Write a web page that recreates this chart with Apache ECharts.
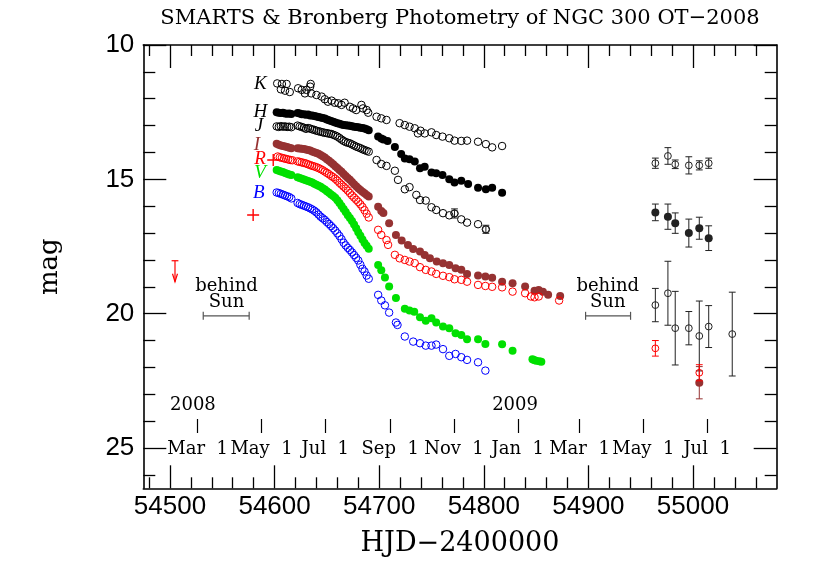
<!DOCTYPE html>
<html><head><meta charset="utf-8">
<script src="https://cdn.jsdelivr.net/npm/echarts@6/dist/echarts.min.js"></script>
<style>html,body{margin:0;padding:0;background:#fff}#c{width:830px;height:578px}</style>
</head><body><div id="c"></div><script>
// ---------------- data (HJD-2400000, magnitude) ----------------
const K = [[54602.5,11.43],[54607,11.45],[54611.5,11.45],[54606,11.65],[54610,11.70],[54614.5,11.75],
 [54622.5,11.61],[54626,11.67],[54630.5,11.67],[54634.5,11.45],[54634,11.55],[54629,11.80],[54635,11.80],
 [54640,11.86],[54645,11.92],[54648,12.02],[54651,12.11],[54654.5,12.07],[54657.5,12.15],[54661,12.17],
 [54664,12.23],[54667,12.15],[54672,12.30],[54675,12.36],[54678,12.42],[54683,12.23],[54684.5,12.36],
 [54688,12.42],[54689.5,12.52],[54697.5,12.67],[54702,12.73],[54707,12.79],[54719.5,12.91],[54724.5,12.98],
 [54729,13.04],[54734,13.10],[54737,13.29],[54739.5,13.19],[54743.5,13.29],[54750,13.25],[54754.5,13.35],
 [54760.5,13.41],[54767,13.47],[54772,13.56],[54778.5,13.57],[54784,13.56],[54794.5,13.60],[54802,13.69],
 [54808,13.81],[54817.5,13.76]];
const H = [[54602,12.50],[54604,12.52],[54606,12.53],[54608,12.52],[54610,12.55],[54612,12.56],[54614,12.55],[54616,12.57],
 [54622,12.53],[54624,12.55],[54626,12.58],[54628,12.58],[54630,12.60],[54632,12.59],[54634,12.62],[54636,12.62],
 [54638,12.64],[54640,12.66],[54642,12.68],[54644,12.70],[54646,12.72],[54648,12.74],[54650,12.77],[54652,12.80],
 [54654,12.83],[54656,12.86],[54658,12.88],[54660,12.91],[54662,12.93],[54664,12.96],[54666,12.98],[54668,12.99],
 [54670,13.00],[54672,13.01],[54674,13.02],[54676,13.04],[54678,13.05],[54680,13.06],[54682,13.08],[54684,13.09],
 [54686,13.11],[54688,13.14],[54690,13.17],[54699,13.41],[54702,13.48],[54704,13.52],[54708,13.57],[54715,13.80],
 [54721,14.06],[54724.5,14.22],[54729,14.25],[54734,14.34],[54739,14.59],[54743.5,14.53],[54750,14.75],[54754.5,14.77],
 [54760.5,14.84],[54767,15.00],[54772,15.12],[54778.5,15.05],[54785,15.17],[54794.5,15.31],[54802,15.37],[54808,15.31],
 [54817.5,15.50]];
const J = [[54602,13.03],[54604,13.05],[54606,13.02],[54608,13.04],[54610,13.03],[54612,13.05],[54614,13.04],[54616,13.06],
 [54622,13.00],[54624,13.03],[54626,13.05],[54628,13.08],[54630,13.12],[54632,13.09],[54634,13.11],[54636,13.14],
 [54638,13.16],[54640,13.19],[54642,13.21],[54644,13.23],[54646,13.25],[54648,13.27],[54650,13.28],[54652,13.30],
 [54654,13.31],[54656,13.34],[54658,13.37],[54660,13.41],[54662,13.46],[54664,13.52],[54666,13.57],[54668,13.61],
 [54670,13.64],[54672,13.66],[54674,13.70],[54676,13.74],[54678,13.78],[54680,13.81],[54682,13.84],[54684,13.88],
 [54686,13.91],[54688,13.94],[54690,13.97],[54697.5,14.28],[54702,14.43],[54707,14.50],[54715,14.68],[54718,15.02],
 [54724.5,15.37],[54729,15.29],[54735.5,15.58],[54739,15.77],[54744.5,15.79],[54750,16.04],[54754.5,16.14],[54761,16.26],
 [54767,16.34],[54772,16.27],[54778.5,16.49],[54784,16.61],[54794.5,16.67],[54802,16.86]];
const I = [[54602,13.68],[54604,13.71],[54606,13.74],[54608,13.76],[54610,13.78],[54612,13.80],[54614,13.82],[54616,13.84],
 [54622,13.84],[54624,13.85],[54626,13.86],[54628,13.87],[54630,13.89],[54632,13.91],[54634,13.93],[54636,13.96],
 [54638,13.99],[54640,14.02],[54642,14.05],[54644,14.09],[54646,14.14],[54648,14.19],[54650,14.25],[54652,14.31],
 [54654,14.37],[54656,14.44],[54658,14.51],[54660,14.58],[54662,14.65],[54664,14.72],[54666,14.80],[54668,14.88],
 [54670,14.95],[54672,15.02],[54674,15.10],[54676,15.18],[54678,15.26],[54680,15.33],[54682,15.40],[54684,15.46],
 [54686,15.52],[54688,15.58],[54690,15.64],[54699,16.02],[54702,16.18],[54704,16.25],[54709.5,16.63],[54716,17.07],
 [54721.5,17.28],[54727.5,17.44],[54732.5,17.59],[54739,17.69],[54743.5,17.82],[54748.5,17.94],[54755,18.06],[54761,18.12],
 [54767,18.19],[54773,18.31],[54778.5,18.37],[54784,18.52],[54794.5,18.58],[54801.5,18.62],[54808,18.66],[54817.5,18.81],
 [54827.5,18.87],[54839.5,18.99],[54848.5,19.15],[54852.5,19.12],[54856.5,19.18],[54861.5,19.30],[54873,19.34]];
const R = [[54603,14.15],[54605,14.18],[54607,14.20],[54609,14.22],[54611,14.24],[54613,14.26],[54615,14.28],[54617,14.29],
 [54622,14.33],[54624,14.35],[54626,14.37],[54628,14.39],[54630,14.41],[54632,14.44],[54634,14.47],[54636,14.50],
 [54638,14.52],[54640,14.55],[54642,14.58],[54644,14.62],[54646,14.66],[54648,14.71],[54650,14.76],[54652,14.81],
 [54654,14.87],[54656,14.92],[54658,14.98],[54660,15.05],[54662,15.13],[54664,15.20],[54666,15.27],[54668,15.34],
 [54670,15.42],[54672,15.51],[54674,15.60],[54676,15.68],[54678,15.76],[54680,15.84],[54682,15.93],[54684,16.03],
 [54686,16.15],[54688,16.28],[54690,16.42],[54699,16.88],[54702,17.07],[54707,17.26],[54708.5,17.44],[54715,17.81],
 [54719.5,17.94],[54724.5,18.00],[54729,18.06],[54734,18.12],[54739,18.27],[54744.5,18.37],[54750,18.43],[54754.5,18.52],
 [54761,18.59],[54767,18.64],[54772,18.72],[54778.5,18.74],[54784,18.81],[54794.5,18.93],[54801.5,18.97],[54808,19.00],
 [54817.5,19.02],[54827.5,19.18],[54839.5,19.24],[54845,19.36],[54848.5,19.39],[54852.5,19.36],[54872,19.51]];
const V = [[54602,14.65],[54604,14.68],[54606,14.71],[54608,14.73],[54610,14.76],[54612,14.79],[54614,14.82],[54616,14.84],
 [54622,14.92],[54624,14.95],[54626,14.98],[54628,15.01],[54630,15.03],[54632,15.06],[54634,15.09],[54636,15.12],
 [54638,15.16],[54640,15.20],[54642,15.24],[54644,15.28],[54646,15.33],[54648,15.38],[54650,15.44],[54652,15.50],
 [54654,15.56],[54656,15.62],[54658,15.69],[54660,15.78],[54662,15.88],[54664,15.99],[54666,16.10],[54668,16.22],
 [54670,16.34],[54672,16.44],[54674,16.55],[54676,16.68],[54678,16.82],[54680,16.97],[54682,17.10],[54684,17.24],
 [54686,17.37],[54688,17.47],[54690,17.58],[54699,18.19],[54702,18.38],[54705.5,18.65],[54709.5,18.99],[54716,19.42],
 [54724.5,19.82],[54729,19.88],[54733.5,19.93],[54739,20.13],[54744.5,20.26],[54750,20.17],[54754.5,20.33],[54761,20.48],
 [54767,20.54],[54773,20.73],[54778.5,20.79],[54784,20.95],[54794.5,20.95],[54801.5,21.13],[54817.5,21.14],[54827.5,21.38],
 [54846.5,21.70],[54848,21.72],[54850,21.75],[54853,21.77],[54855,21.79]];
const B = [[54602,15.49],[54604,15.51],[54606,15.54],[54608,15.57],[54610,15.60],[54612,15.63],[54614,15.66],[54616,15.71],
 [54622,15.88],[54624,15.92],[54626,15.95],[54628,15.98],[54630,16.01],[54632,16.04],[54634,16.08],[54636,16.12],
 [54638,16.17],[54640,16.23],[54642,16.31],[54644,16.39],[54646,16.45],[54648,16.51],[54650,16.59],[54652,16.66],
 [54654,16.74],[54656,16.82],[54658,16.91],[54660,17.01],[54662,17.11],[54664,17.23],[54666,17.36],[54668,17.46],
 [54670,17.55],[54672,17.63],[54674,17.72],[54676,17.82],[54678,17.92],[54680,18.02],[54682,18.18],[54684,18.33],
 [54686,18.43],[54688,18.58],[54690,18.70],[54699,19.30],[54702,19.51],[54705.5,19.69],[54709.5,19.96],[54716,20.33],
 [54717.5,20.42],[54724.5,20.85],[54732.5,21.04],[54739,21.10],[54744.5,21.19],[54750,21.19],[54754.5,21.15],[54761,21.32],
 [54767,21.57],[54773,21.50],[54778.5,21.62],[54784,21.72],[54794.5,21.81],[54801.5,22.12]];
// points with error bars: [HJD, mag, error]
const Kerr = [[54964,14.40,0.19],[54976,14.13,0.31],[54983,14.44,0.16],[54996,14.48,0.32],[55006,14.48,0.17],[55015,14.40,0.19]];
const Herr = [[54964,16.23,0.31],[54976,16.39,0.47],[54983,16.63,0.38],[54996,17.00,0.52],[55006,16.82,0.41],[55015,17.19,0.46]];
const Jerr = [[54772,16.27,0.17],[54802,16.86,0.15],[54964,19.68,0.62],[54976,19.24,1.19],[54983,20.54,1.37],[54996,20.54,0.62],
 [55006,20.83,1.30],[55015,20.48,0.78],[55037.5,20.76,1.56]];
const Rerr = [[54964,21.29,0.29],[55006,22.20,0.30]];
const Ierr = [[55006,22.57,0.60]];
const Rplus = [[54598.7,14.28],[54579.5,16.33]];
const Rlimit = [[54504.8,18.03]];
// axes
const xMajor = [54500,54600,54700,54800,54900,55000];
const xMinor = [54480,54520,54540,54560,54580,54620,54640,54660,54680,54720,54740,54760,54780,54820,54840,54860,54880,54920,54940,54960,54980,55020,55040,55060];
const yMajor = [10,15,20,25];
const yMinor = [11,12,13,14,16,17,18,19,21,22,23,24,26];
const monthTicks = [54526.5,54587.5,54648.5,54710.5,54771.5,54832.5,54891.5,54952.5,55013.5];
const monthLabels = ['Mar  1','May  1','Jul  1','Sep  1','Nov  1','Jan  1','Mar  1','May  1','Jul  1'];
const yearLabels = ['2008','2009'];
const yearAnchors = [[54500,23.4],[54808,23.4]];
const bandNames = ['K','H','J','I','R','V','B'];
const bandAnchors = [[54586.5,11.45],[54586.5,12.48],[54585,13.01],[54583,13.72],[54586,14.25],[54586,14.77],[54585,15.52]];
const sunSpans = [[54531.8,54575.7,20.08],[54897.3,54940.3,20.08]];
const sunWords = ['behind','Sun'];
const sunTextAnchors = [[54554,18.99,0],[54554,19.58,1],[54918.5,18.99,0],[54918.5,19.58,1]];

// ---------------- chart ----------------
const XMIN = 54474.5, XMAX = 55080, YMIN = 10, YMAX = 26.5;
const bandColors = ['#000','#000','#000','#963232','#ff0000','#00e000','#0000ff'];
const SERIF = '"DejaVu Serif", serif';
const SANS = '"Liberation Sans", Arial, sans-serif';
const chart = echarts.init(document.getElementById('c'), null, {renderer:'canvas'});

function xAx(pos, ticks, len, opts){
  return Object.assign({type:'value', position:pos, min:XMIN, max:XMAX, gridIndex:0,
    axisLine:{show:false}, splitLine:{show:false},
    axisTick:{show:true, inside:true, length:len, customValues:ticks, lineStyle:{color:'#000', width:1.3}},
    axisLabel:{show:false}}, opts||{});
}
function yAx(pos, ticks, len, opts){
  return Object.assign({type:'value', position:pos, min:YMIN, max:YMAX, inverse:true, gridIndex:0,
    axisLine:{show:false}, splitLine:{show:false},
    axisTick:{show:true, inside:true, length:len, customValues:ticks, lineStyle:{color:'#000', width:1.3}},
    axisLabel:{show:false}}, opts||{});
}
const frameLine = {show:true, onZero:false, lineStyle:{color:'#000', width:1.6}};

function openScatter(data, color){
  return {type:'scatter', data, symbol:'circle', symbolSize:7.5, silent:true,
    itemStyle:{color:'rgba(0,0,0,0)', borderColor:color, borderWidth:1, opacity:1}, z:5};
}
function fillScatter(data, color){
  return {type:'scatter', data, symbol:'circle', symbolSize:8, silent:true,
    itemStyle:{color:color, borderWidth:0, opacity:1}, z:4};
}
function errSeries(data, color, filled){
  return {type:'custom', data, silent:true, encode:{x:0,y:1}, z:6,
    renderItem:(p, api)=>{
      const d=api.value(0), m=api.value(1), e=api.value(2);
      const t=api.coord([d,m-e]), b=api.coord([d,m+e]), c=api.coord([d,m]);
      const w=3.4, st={stroke:color, lineWidth:1, fill:null};
      const kids=[
        {type:'line', shape:{x1:t[0],y1:t[1],x2:b[0],y2:b[1]}, style:st},
        {type:'line', shape:{x1:t[0]-w,y1:t[1],x2:t[0]+w,y2:t[1]}, style:st},
        {type:'line', shape:{x1:b[0]-w,y1:b[1],x2:b[0]+w,y2:b[1]}, style:st},
        filled ? {type:'circle', shape:{cx:c[0],cy:c[1],r:4}, style:{fill:color}}
               : {type:'circle', shape:{cx:c[0],cy:c[1],r:3.4}, style:{fill:'rgba(0,0,0,0)', stroke:color, lineWidth:1}}
      ];
      return {type:'group', children:kids};
    }};
}
function textSeries(anchors, textFn, fontFn, colorFn){
  return {type:'custom', data:anchors, silent:true, encode:{x:0,y:1}, z:7,
    renderItem:(p, api)=>{
      const c=api.coord([api.value(0), api.value(1)]);
      const i=p.dataIndex;
      return {type:'text', x:c[0], y:c[1], style:{text:textFn(i), font:fontFn(i), fill:colorFn(i),
        align:'center', verticalAlign:'middle', textAlign:'center', textVerticalAlign:'middle'}};
    }};
}

const option = {
  animation:false,
  backgroundColor:'#fff',
  grid:[
    {left:143.3, right:53.3, top:45, bottom:89.7, show:false},
    {left:143.3, right:53.3, top:45, bottom:145, show:false}
  ],
  xAxis:[
    xAx('bottom', xMajor, 23, {axisLine:frameLine,
      axisLabel:{show:true, customValues:xMajor, margin:6, color:'#000', fontSize:26, fontFamily:SANS,
        formatter:(v)=>String(Math.round(v))},
      name:'HJD\u22122400000', nameLocation:'middle', nameGap:42,
      nameTextStyle:{fontFamily:SERIF, fontSize:27, color:'#000'}}),
    xAx('bottom', xMinor, 11),
    xAx('top', xMajor, 23, {axisLine:frameLine}),
    xAx('top', xMinor, 11),
    {type:'value', gridIndex:1, position:'bottom', min:XMIN, max:XMAX,
      axisLine:{show:false}, splitLine:{show:false},
      axisTick:{show:true, inside:true, length:14, customValues:monthTicks, lineStyle:{color:'#000', width:1.2}},
      axisLabel:{show:true, customValues:monthTicks, margin:7, color:'#000', fontSize:18, fontFamily:SERIF,
        formatter:(v)=>{let k=0,bd=1e9; monthTicks.forEach((t,i)=>{if(Math.abs(t-v)<bd){bd=Math.abs(t-v);k=i;}}); return monthLabels[k];}}}
  ],
  yAxis:[
    yAx('left', yMajor, 23, {axisLine:frameLine,
      axisLabel:{show:true, customValues:yMajor, margin:9, color:'#000', fontSize:26, fontFamily:SANS,
        formatter:(v)=>String(Math.round(v))},
      name:'mag', nameLocation:'middle', nameGap:80, nameRotate:90,
      nameTextStyle:{fontFamily:SERIF, fontSize:26, color:'#000'}}),
    yAx('left', yMinor, 12),
    yAx('right', yMajor, 23, {axisLine:frameLine}),
    yAx('right', yMinor, 12),
    {type:'value', gridIndex:1, show:false, min:0, max:1}
  ],
  graphic:[
    {type:'text', x:460, y:19, style:{text:'SMARTS & Bronberg Photometry of NGC 300 OT\u22122008',
      font:'21px '+SERIF, fill:'#000', align:'center', verticalAlign:'middle'}}
  ],
  series:[
    openScatter(K, '#000'),
    fillScatter(H, '#000'),
    openScatter(J, '#000'),
    fillScatter(I, '#963232'),
    openScatter(R, '#ff0000'),
    fillScatter(V, '#00e000'),
    openScatter(B, '#0000ff'),
    errSeries(Kerr, '#222', false),
    errSeries(Herr, '#222', true),
    errSeries(Jerr, '#222', false),
    errSeries(Ierr, '#963232', true),
    errSeries(Rerr, '#ff0000', false),
    {type:'scatter', data:Rplus, silent:true, symbol:'path://M0,6L12,6M6,0L6,12', symbolSize:12, z:6,
      itemStyle:{color:'rgba(0,0,0,0)', borderColor:'#ff0000', borderWidth:1.4, opacity:1}},
    {type:'custom', data:Rlimit, silent:true, encode:{x:0,y:1}, z:6,
      renderItem:(p, api)=>{
        const c=api.coord([api.value(0), api.value(1)]);
        const st={stroke:'#ff0000', lineWidth:1.2, fill:'none'};
        const L=21;
        return {type:'group', children:[
          {type:'line', shape:{x1:c[0]-3.4,y1:c[1],x2:c[0]+3.4,y2:c[1]}, style:st},
          {type:'line', shape:{x1:c[0],y1:c[1],x2:c[0],y2:c[1]+L}, style:st},
          {type:'polyline', shape:{points:[[c[0]-2.5,c[1]+L-8],[c[0],c[1]+L],[c[0]+2.5,c[1]+L-8]]}, style:st}
        ]};
      }},
    {type:'custom', data:sunSpans, silent:true, encode:{x:[0,1],y:2}, z:6,
      renderItem:(p, api)=>{
        const a=api.coord([api.value(0), api.value(2)]), b=api.coord([api.value(1), api.value(2)]);
        const st={stroke:'#555', lineWidth:1.2};
        return {type:'group', children:[
          {type:'line', shape:{x1:a[0],y1:a[1],x2:b[0],y2:b[1]}, style:st},
          {type:'line', shape:{x1:a[0],y1:a[1]-4,x2:a[0],y2:a[1]+4}, style:st},
          {type:'line', shape:{x1:b[0],y1:b[1]-4,x2:b[0],y2:b[1]+4}, style:st}
        ]};
      }},
    textSeries(sunTextAnchors, i=>sunWords[sunTextAnchors[i][2]], i=>'18px '+SERIF, i=>'#000'),
    textSeries(bandAnchors, i=>bandNames[i], i=>'italic 19px "Liberation Serif", serif', i=>bandColors[i]),
    {type:'custom', data:yearAnchors, silent:true, encode:{x:0,y:1}, z:7,
      renderItem:(p, api)=>{
        const c=api.coord([api.value(0), api.value(1)]);
        return {type:'text', x:c[0], y:c[1], style:{text:yearLabels[p.dataIndex], font:'18px '+SERIF, fill:'#000',
          align:'left', verticalAlign:'middle'}};
      }}
  ]
};
chart.setOption(option);
</script></body></html>
